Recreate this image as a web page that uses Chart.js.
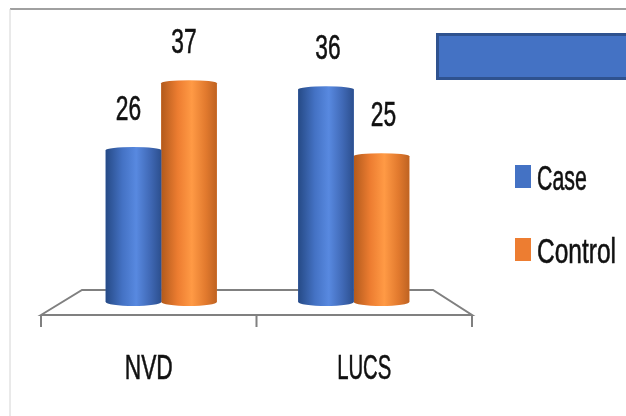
<!DOCTYPE html>
<html lang="en">
<head>
  <meta charset="UTF-8">
  <title>NVD and LUCS</title>
  <script src="https://cdn.jsdelivr.net/npm/chart.js"></script>
  <style>
    html, body { margin: 0; padding: 0; background: #fff; overflow: hidden; }
    #wrap { width: 626px; height: 416px; }
    canvas { filter: blur(0.5px); }
  </style>
</head>
<body>
  <div id="wrap"><canvas id="grafica"></canvas></div>

  <script>
    const categories = ['NVD', 'LUCS'];
    const caseValues = [26, 36];
    const controlValues = [37, 25];

    const seriesColors = ['#4472c4', '#ed7d31'];
    const cylinderStops = [
      ['#264a86', '#4472c4', '#5889e0', '#4069b6', '#2c4f8e'],
      ['#b25a1c', '#ed7d31', '#ff9a45', '#e27a2e', '#bf6322']
    ];

    // condensed, tall text like the stretched original
    const squeeze = { Case: 0.61, Control: 0.7, LUCS: 0.58 };
    function stretchedText(ctx, text, x, y, align) {
      ctx.save();
      ctx.translate(x, y);
      ctx.scale(squeeze[text] || 0.65, 1);
      ctx.font = '35px "Liberation Sans"';
      ctx.fillStyle = '#111';
      ctx.strokeStyle = '#111';
      ctx.lineWidth = 0.6;
      ctx.textAlign = align;
      ctx.textBaseline = 'middle';
      ctx.fillText(text, 0, 0);
      ctx.strokeText(text, 0, 0);
      ctx.restore();
    }

    const backdrop = {
      id: 'backdrop',
      beforeDatasetsDraw(chart) {
        const ctx = chart.ctx;
        const a = chart.chartArea;
        ctx.save();

        // frame of the pasted picture
        ctx.strokeStyle = '#a0a0a0';
        ctx.lineWidth = 2;
        ctx.beginPath(); ctx.moveTo(10, 9); ctx.lineTo(626, 9); ctx.stroke();
        ctx.strokeStyle = '#d4d4d4';
        ctx.lineWidth = 1;
        ctx.beginPath(); ctx.moveTo(10, 9); ctx.lineTo(10, 416); ctx.stroke();

        // floor of the 3D plot
        const frontY = a.bottom + 13;
        const backY = a.bottom - 12;
        const left = a.left - 24;
        const right = a.right + 22;
        const mid = (left + right) / 2;
        ctx.strokeStyle = '#808080';
        ctx.lineWidth = 2;
        ctx.beginPath();
        ctx.moveTo(left, frontY);
        ctx.lineTo(a.left + 17, backY);
        ctx.lineTo(a.right - 17, backY);
        ctx.lineTo(right, frontY);
        ctx.closePath();
        ctx.stroke();
        ctx.beginPath();
        [left, mid, right].forEach(x => {
          ctx.moveTo(x, frontY);
          ctx.lineTo(x, frontY + 12);
        });
        ctx.stroke();

        // category labels sit at the middle of the front floor edge
        categories.forEach((c, i) => {
          stretchedText(ctx, c, left + (right - left) * (i + 0.5) / categories.length, a.bottom + 67, 'center');
        });

        // blue box at the top right
        ctx.fillStyle = '#4472c4';
        ctx.fillRect(436, 33, 200, 47);
        ctx.strokeStyle = '#2f528f';
        ctx.lineWidth = 3;
        ctx.strokeRect(437.5, 34.5, 200, 44);

        // legend
        chart.data.datasets.forEach((ds, i) => {
          const y = 165 + i * 73;
          ctx.fillStyle = seriesColors[i];
          ctx.fillRect(515, y, 16, 23);
          stretchedText(ctx, ds.label, 537, y + 15, 'left');
        });
        ctx.restore();
      },
      afterDatasetDraw(chart, args) {
        const ctx = chart.ctx;
        const stops = cylinderStops[args.index];
        const nudge = [-5, 2];
        chart.getDatasetMeta(args.index).data.forEach((bar, i) => {
          const x0 = bar.x - bar.width / 2;
          const x1 = bar.x + bar.width / 2;
          const g = ctx.createLinearGradient(x0, 0, x1, 0);
          [0, 0.3, 0.55, 0.8, 1].forEach((p, k) => g.addColorStop(p, stops[k]));
          ctx.save();
          ctx.fillStyle = g;
          ctx.beginPath();
          ctx.moveTo(x0, bar.y);
          ctx.ellipse(bar.x, bar.y, bar.width / 2, 3, 0, Math.PI, 0);
          ctx.lineTo(x1, bar.base);
          ctx.ellipse(bar.x, bar.base, bar.width / 2, 4, 0, 0, Math.PI);
          ctx.closePath();
          ctx.fill();
          ctx.restore();
          stretchedText(ctx, String(chart.data.datasets[args.index].data[i]), bar.x + nudge[i], bar.y - 40, 'center');
        });
      }
    };

    new Chart(document.getElementById('grafica'), {
      type: 'bar',
      data: {
        labels: categories,
        datasets: [
          { label: 'Case', data: caseValues, backgroundColor: seriesColors[0] },
          { label: 'Control', data: controlValues, backgroundColor: seriesColors[1] }
        ]
      },
      options: {
        responsive: true,
        maintainAspectRatio: false,
        animation: false,
        layout: { padding: { left: 65, right: 176, top: 65, bottom: 114 } },
        datasets: { bar: { categoryPercentage: 0.577, barPercentage: 1, borderWidth: 0, base: 1 } },
        plugins: { legend: { display: false }, tooltip: { enabled: false } },
        scales: {
          x: { display: false },
          // the floor hides the first unit of the cylinders in the original
          y: { display: false, min: 1, max: 40 }
        }
      },
      plugins: [backdrop]
    });
  </script>
</body>
</html>
